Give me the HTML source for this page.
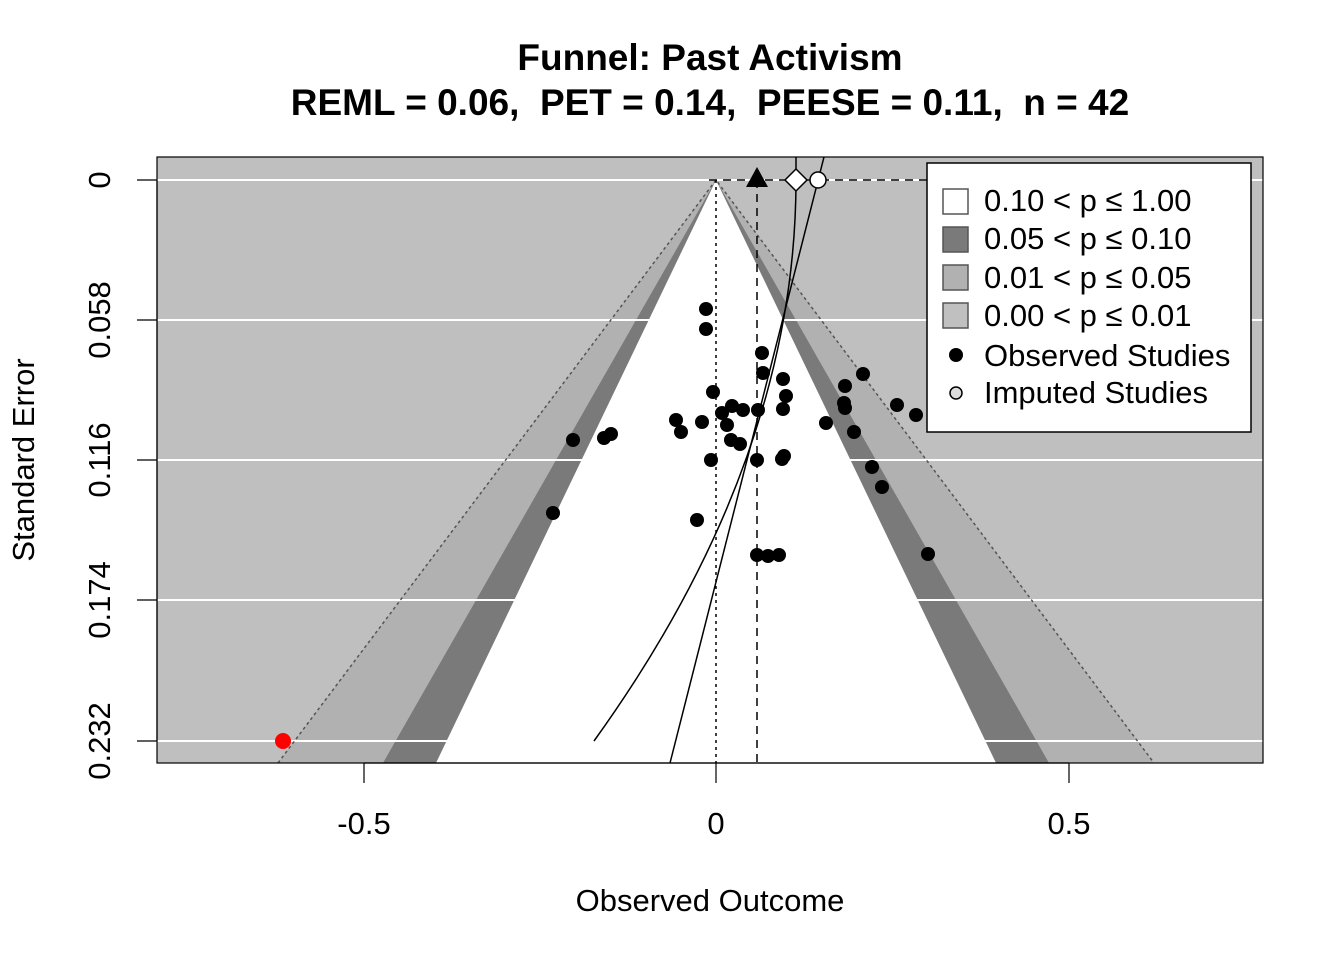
<!DOCTYPE html>
<html><head><meta charset="utf-8"><style>body{margin:0;background:#fff}svg{display:block}</style></head>
<body>
<svg width="1344" height="960" xmlns="http://www.w3.org/2000/svg" font-family="Liberation Sans, Arial, sans-serif">
<defs><clipPath id="c"><rect x="157" y="157" width="1106" height="606"/></clipPath></defs>
<text x="710" y="70" font-size="37" font-weight="bold" text-anchor="middle">Funnel: Past Activism</text>
<text x="710" y="115" font-size="37" font-weight="bold" text-anchor="middle" xml:space="preserve">REML = 0.06,  PET = 0.14,  PEESE = 0.11,  n = 42</text>
<g clip-path="url(#c)">
<rect x="157" y="157" width="1106" height="606" fill="#bfbfbf"/>
<polygon points="716,180 278,763 1154,763" fill="#b1b1b1"/>
<polygon points="716,180 383,763 1049,763" fill="#7a7a7a"/>
<g stroke="#fff" stroke-width="2">
<line x1="157" y1="180" x2="1263" y2="180"/><line x1="157" y1="320" x2="1263" y2="320"/>
<line x1="157" y1="460" x2="1263" y2="460"/><line x1="157" y1="600" x2="1263" y2="600"/>
<line x1="157" y1="741" x2="1263" y2="741"/></g>
<polygon points="716,180 436,763 996,763" fill="#fff"/>
<g stroke="#555" stroke-width="1.5" stroke-dasharray="3,3" fill="none">
<polyline points="278,763 716,180 1154,763"/>
</g>
<line x1="716" y1="180" x2="716" y2="763" stroke="#000" stroke-width="1.5" stroke-dasharray="3,4"/>
<line x1="757" y1="180" x2="757" y2="763" stroke="#000" stroke-width="1.5" stroke-dasharray="8,6"/>
<line x1="709" y1="180" x2="930" y2="180" stroke="#000" stroke-width="1.5" stroke-dasharray="8,6"/>
<line x1="670" y1="763" x2="824" y2="157" stroke="#000" stroke-width="1.5"/>
<path d="M796,157 L796,180 Q796,460.5 594,741" stroke="#000" stroke-width="1.5" fill="none"/>
<g fill="#000">
<circle cx="706" cy="309" r="7"/><circle cx="706" cy="329" r="7"/><circle cx="762" cy="353" r="7"/><circle cx="763" cy="373" r="7"/><circle cx="783" cy="379" r="7"/><circle cx="786" cy="396" r="7"/><circle cx="713" cy="392" r="7"/><circle cx="863" cy="374" r="7"/><circle cx="845" cy="386" r="7"/><circle cx="844" cy="403" r="7"/><circle cx="845" cy="408" r="7"/><circle cx="897" cy="405" r="7"/><circle cx="916" cy="415" r="7"/><circle cx="732" cy="406" r="7"/><circle cx="743" cy="410" r="7"/><circle cx="758" cy="410" r="7"/><circle cx="722" cy="413" r="7"/><circle cx="783" cy="409" r="7"/><circle cx="676" cy="420" r="7"/><circle cx="702" cy="422" r="7"/><circle cx="727" cy="425" r="7"/><circle cx="681" cy="432" r="7"/><circle cx="826" cy="423" r="7"/><circle cx="854" cy="432" r="7"/><circle cx="573" cy="440" r="7"/><circle cx="604" cy="438" r="7"/><circle cx="611" cy="434" r="7"/><circle cx="731" cy="440" r="7"/><circle cx="740" cy="444" r="7"/><circle cx="711" cy="460" r="7"/><circle cx="757" cy="460" r="7"/><circle cx="784" cy="456" r="7"/><circle cx="782" cy="459" r="7"/><circle cx="872" cy="467" r="7"/><circle cx="882" cy="487" r="7"/><circle cx="553" cy="513" r="7"/><circle cx="697" cy="520" r="7"/><circle cx="757" cy="555" r="7"/><circle cx="768" cy="556" r="7"/><circle cx="779" cy="555" r="7"/><circle cx="928" cy="554" r="7"/>
</g>
<circle cx="283" cy="741" r="8" fill="#f00"/>
<polygon points="757,167 746,187 768,187" fill="#000"/>
<polygon points="796,169 807,180 796,191 785,180" fill="#fff" stroke="#000" stroke-width="1.5"/>
<circle cx="818" cy="180" r="8" fill="#fff" stroke="#000" stroke-width="1.5"/>
</g>
<rect x="157" y="157" width="1106" height="606" fill="none" stroke="#000" stroke-width="1.2"/>
<rect x="927" y="163" width="324" height="269" fill="#fff" stroke="#000" stroke-width="1.5"/>
<g stroke="#555" stroke-width="1.5">
<rect x="943" y="189" width="25" height="25" fill="#fff"/>
<rect x="943" y="227" width="25" height="25" fill="#7a7a7a"/>
<rect x="943" y="265" width="25" height="25" fill="#b1b1b1"/>
<rect x="943" y="303" width="25" height="25" fill="#c0c0c0"/>
</g>
<circle cx="956" cy="355" r="7" fill="#000"/>
<circle cx="956" cy="393" r="6" fill="#ddd" stroke="#000" stroke-width="1.5"/>
<g font-size="31" fill="#000">
<text x="984" y="211">0.10 &lt; p ≤ 1.00</text>
<text x="984" y="249">0.05 &lt; p ≤ 0.10</text>
<text x="984" y="288">0.01 &lt; p ≤ 0.05</text>
<text x="984" y="326">0.00 &lt; p ≤ 0.01</text>
<text x="984" y="366">Observed Studies</text>
<text x="984" y="403">Imputed Studies</text>
</g>
<g stroke="#000" stroke-width="1.2">
<line x1="364" y1="763" x2="1069" y2="763"/>
<line x1="364" y1="763" x2="364" y2="783"/><line x1="716" y1="763" x2="716" y2="783"/><line x1="1069" y1="763" x2="1069" y2="783"/>
<line x1="157" y1="180" x2="157" y2="741"/>
<line x1="137" y1="180" x2="157" y2="180"/><line x1="137" y1="320" x2="157" y2="320"/><line x1="137" y1="460" x2="157" y2="460"/><line x1="137" y1="600" x2="157" y2="600"/><line x1="137" y1="741" x2="157" y2="741"/>
</g>
<g font-size="31" text-anchor="middle">
<text x="364" y="834">-0.5</text><text x="716" y="834">0</text><text x="1069" y="834">0.5</text>
<text x="710" y="911">Observed Outcome</text>
<text transform="translate(110,180) rotate(-90)">0</text>
<text transform="translate(110,320) rotate(-90)">0.058</text>
<text transform="translate(110,460) rotate(-90)">0.116</text>
<text transform="translate(110,600) rotate(-90)">0.174</text>
<text transform="translate(110,741) rotate(-90)">0.232</text>
<text transform="translate(34,460) rotate(-90)">Standard Error</text>
</g>
</svg>
</body></html>
